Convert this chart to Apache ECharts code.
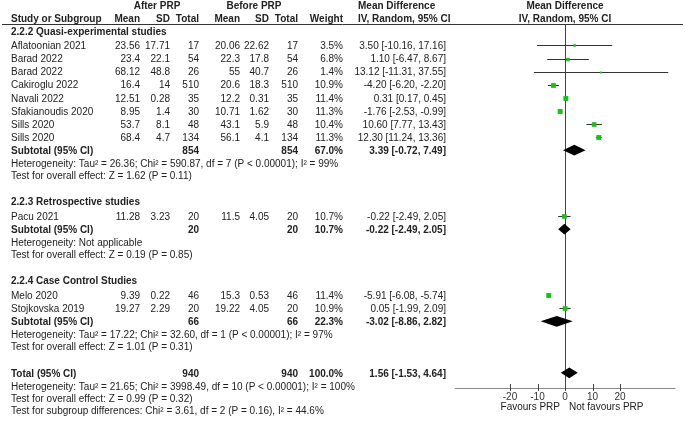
<!DOCTYPE html>
<html>
<head>
<meta charset="utf-8">
<script src="https://cdn.jsdelivr.net/npm/echarts@6/dist/echarts.min.js"></script>
<style>html,body{margin:0;padding:0;background:#fff;}#c{width:685px;height:422px;}</style>
</head>
<body>
<div id="c"></div>
<script>
// ---------------- DATA ----------------
const groupNames = ['2.2.2 Quasi-experimental studies', '2.2.3 Retrospective studies', '2.2.4 Case Control Studies'];
const studyNames = ['Aflatoonian 2021', 'Barad 2022', 'Barad 2022', 'Cakiroglu 2022', 'Navali 2022', 'Sfakianoudis 2020', 'Sills 2020', 'Sills 2020', 'Pacu 2021', 'Melo 2020', 'Stojkovska 2019'];
const studyGroup = [0, 0, 0, 0, 0, 0, 0, 0, 1, 2, 2];
const afterMean = ['23.56', '23.4', '68.12', '16.4', '12.51', '8.95', '53.7', '68.4', '11.28', '9.39', '19.27'];
const afterSD = ['17.71', '22.1', '48.8', '14', '0.28', '1.4', '8.1', '4.7', '3.23', '0.22', '2.29'];
const afterN = [17, 54, 26, 510, 35, 30, 48, 134, 20, 46, 20];
const beforeMean = ['20.06', '22.3', '55', '20.6', '12.2', '10.71', '43.1', '56.1', '11.5', '15.3', '19.22'];
const beforeSD = ['22.62', '17.8', '40.7', '18.3', '0.31', '1.62', '5.9', '4.1', '4.05', '0.53', '4.05'];
const beforeN = [17, 54, 26, 510, 35, 30, 48, 134, 20, 46, 20];
const weight = [3.5, 6.8, 1.4, 10.9, 11.4, 11.3, 10.4, 11.3, 10.7, 11.4, 10.9];
const md = [3.50, 1.10, 13.12, -4.20, 0.31, -1.76, 10.60, 12.30, -0.22, -5.91, 0.05];
const ciLow = [-10.16, -6.47, -11.31, -6.20, 0.17, -2.53, 7.77, 11.24, -2.49, -6.08, -1.99];
const ciHigh = [17.16, 8.67, 37.55, -2.20, 0.45, -0.99, 13.43, 13.36, 2.05, -5.74, 2.09];

const subN = [854, 20, 66];
const subWeight = [67.0, 10.7, 22.3];
const subMd = [3.39, -0.22, -3.02];
const subLow = [-0.72, -2.49, -8.86];
const subHigh = [7.49, 2.05, 2.82];
const subHet = [
  'Heterogeneity: Tau\u00B2 = 26.36; Chi\u00B2 = 590.87, df = 7 (P < 0.00001); I\u00B2 = 99%',
  'Heterogeneity: Not applicable',
  'Heterogeneity: Tau\u00B2 = 17.22; Chi\u00B2 = 32.60, df = 1 (P < 0.00001); I\u00B2 = 97%'
];
const subTest = [
  'Test for overall effect: Z = 1.62 (P = 0.11)',
  'Test for overall effect: Z = 0.19 (P = 0.85)',
  'Test for overall effect: Z = 1.01 (P = 0.31)'
];
const totalN = 940;
const totalWeight = 100.0;
const totalMd = 1.56, totalLow = -1.53, totalHigh = 4.64;
const totalHet = 'Heterogeneity: Tau\u00B2 = 21.65; Chi\u00B2 = 3998.49, df = 10 (P < 0.00001); I\u00B2 = 100%';
const totalTest = 'Test for overall effect: Z = 0.99 (P = 0.32)';
const subgroupTest = 'Test for subgroup differences: Chi\u00B2 = 3.61, df = 2 (P = 0.16), I\u00B2 = 44.6%';
const tickValues = [-20, -10, 0, 10, 20];
const leftLabel = 'Favours PRP';
const rightLabel = 'Not favours PRP';

// ---------------- LAYOUT ----------------
const FONT = '"Liberation Sans", Arial, Helvetica, sans-serif';
const TXT = '#222';
const X_MIN = -40, X_MAX = 40;
const GRID_TOP = 24, GRID_BOTTOM = 34, ROW_PX = 13.1;
const FIRST_ROW_PX = 31;
const Y_MIN = -(FIRST_ROW_PX - GRID_TOP) / ROW_PX;
const Y_MAX = Y_MIN + (422 - GRID_TOP - GRID_BOTTOM) / ROW_PX;
const TEXT_SHIFT = 1;

const COL = { name: 11, aMean: 140, aSD: 170, aN: 199, bMean: 240, bSD: 269, bN: 298, w: 343, ci: 446, ciHead: 358 };

const cells = [];
function cell(x, row, text, opt) { cells.push(Object.assign({ x: x, row: row, text: String(text), align: 'left', bold: false }, opt || {})); }
const fmt = v => v.toFixed(2);
const ciText = (m, l, h) => fmt(m) + ' [' + fmt(l) + ', ' + fmt(h) + ']';

// header
cell(157, -2, 'After PRP', { align: 'center', bold: true });
cell(254, -2, 'Before PRP', { align: 'center', bold: true });
cell(COL.ciHead, -2, 'Mean Difference', { bold: true });
cell(0, -2, 'Mean Difference', { dataX: 0, align: 'center', bold: true });
cell(COL.name, -1, 'Study or Subgroup', { bold: true });
cell(COL.aMean, -1, 'Mean', { align: 'right', bold: true });
cell(COL.aSD, -1, 'SD', { align: 'right', bold: true });
cell(COL.aN, -1, 'Total', { align: 'right', bold: true });
cell(COL.bMean, -1, 'Mean', { align: 'right', bold: true });
cell(COL.bSD, -1, 'SD', { align: 'right', bold: true });
cell(COL.bN, -1, 'Total', { align: 'right', bold: true });
cell(COL.w, -1, 'Weight', { align: 'right', bold: true });
cell(COL.ciHead, -1, 'IV, Random, 95% CI', { bold: true });
cell(0, -1, 'IV, Random, 95% CI', { dataX: 0, align: 'center', bold: true });

const studyRow = [];
const subRow = [];
let r = 0;
groupNames.forEach((g, gi) => {
  cell(COL.name, r, g, { bold: true });
  r += 1.1;
  studyNames.forEach((s, i) => {
    if (studyGroup[i] !== gi) return;
    studyRow[i] = r;
    cell(COL.name, r, s);
    cell(COL.aMean, r, afterMean[i], { align: 'right' });
    cell(COL.aSD, r, afterSD[i], { align: 'right' });
    cell(COL.aN, r, afterN[i], { align: 'right' });
    cell(COL.bMean, r, beforeMean[i], { align: 'right' });
    cell(COL.bSD, r, beforeSD[i], { align: 'right' });
    cell(COL.bN, r, beforeN[i], { align: 'right' });
    cell(COL.w, r, weight[i].toFixed(1) + '%', { align: 'right' });
    cell(COL.ci, r, ciText(md[i], ciLow[i], ciHigh[i]), { align: 'right' });
    r += 1;
  });
  subRow[gi] = r;
  cell(COL.name, r, 'Subtotal (95% CI)', { bold: true });
  cell(COL.aN, r, subN[gi], { align: 'right', bold: true });
  cell(COL.bN, r, subN[gi], { align: 'right', bold: true });
  cell(COL.w, r, subWeight[gi].toFixed(1) + '%', { align: 'right', bold: true });
  cell(COL.ci, r, ciText(subMd[gi], subLow[gi], subHigh[gi]), { align: 'right', bold: true });
  r += 1;
  cell(COL.name, r, subHet[gi]);
  r += 0.93;
  cell(COL.name, r, subTest[gi]);
  r += 2.0;
});
const totalRow = r;
cell(COL.name, r, 'Total (95% CI)', { bold: true });
cell(COL.aN, r, totalN, { align: 'right', bold: true });
cell(COL.bN, r, totalN, { align: 'right', bold: true });
cell(COL.w, r, totalWeight.toFixed(1) + '%', { align: 'right', bold: true });
cell(COL.ci, r, ciText(totalMd, totalLow, totalHigh), { align: 'right', bold: true });
r += 1;
cell(COL.name, r, totalHet);
r += 0.93;
cell(COL.name, r, totalTest);
r += 0.93;
cell(COL.name, r, subgroupTest);
cell(0, 0, leftLabel, { dataX: 0, dx: -5, belowAxis: 19, align: 'right' });
cell(0, 0, rightLabel, { dataX: 0, dx: 4, belowAxis: 19, align: 'left' });

const studyData = studyNames.map((s, i) => [md[i], ciLow[i], ciHigh[i], studyRow[i], weight[i]]);
const diamondData = subMd.map((m, gi) => [m, subLow[gi], subHigh[gi], subRow[gi]]);
diamondData.push([totalMd, totalLow, totalHigh, totalRow]);
const textData = cells.map((c, i) => [0, c.row, i]);
const tickData = tickValues.map(v => [v, Y_MAX]);

// ---------------- CHART ----------------
const chart = echarts.init(document.getElementById('c'), null, { renderer: 'canvas' });
chart.setOption({
  animation: false,
  backgroundColor: '#fff',
  grid: { left: 455, right: 10, top: GRID_TOP, bottom: GRID_BOTTOM, containLabel: false },
  xAxis: {
    type: 'value', min: X_MIN, max: X_MAX, position: 'bottom', splitLine: { show: false },
    axisLine: { show: true, onZero: false, lineStyle: { color: '#888', width: 1 } },
    axisTick: { show: false },
    axisLabel: { show: true, customValues: tickValues, fontSize: 10, fontFamily: FONT, color: '#333', margin: 4 }
  },
  yAxis: { type: 'value', inverse: true, min: Y_MIN, max: Y_MAX, show: false },
  graphic: [{ type: 'line', shape: { x1: 2, y1: GRID_TOP + 0.5, x2: 683, y2: GRID_TOP + 0.5 }, style: { stroke: '#333', lineWidth: 1 }, z: 10 }],
  series: [
    {
      type: 'custom', name: 'studies', data: studyData, clip: false, z: 5,
      encode: { x: [0, 1, 2], y: 3 },
      renderItem: function (params, api) {
        const m = api.value(0), lo = api.value(1), hi = api.value(2), row = api.value(3), w = api.value(4);
        const pL = api.coord([lo, row]), pR = api.coord([hi, row]), pM = api.coord([m, row]);
        const s = 1.5 + 0.3 * w;
        const yy = Math.round(pM[1]) + 0.5;
        return { type: 'group', children: [
          { type: 'line', shape: { x1: pL[0], y1: yy, x2: pR[0], y2: yy }, style: { stroke: '#333', lineWidth: 1 } },
          { type: 'rect', shape: { x: pM[0] - s / 2, y: yy - s / 2, width: s, height: s }, style: { fill: '#14c414' } }
        ] };
      },
      markLine: { silent: true, symbol: 'none', label: { show: false }, lineStyle: { color: '#444', width: 1, type: 'solid' }, data: [{ xAxis: 0 }] }
    },
    {
      type: 'custom', name: 'pooled', data: diamondData, clip: false, z: 6,
      encode: { x: [0, 1, 2], y: 3 },
      renderItem: function (params, api) {
        const m = api.value(0), lo = api.value(1), hi = api.value(2), row = api.value(3);
        const pL = api.coord([lo, row]), pR = api.coord([hi, row]), pM = api.coord([m, row]);
        const h = 5.4;
        return { type: 'polygon', shape: { points: [[pL[0], pM[1]], [pM[0], pM[1] - h], [pR[0], pM[1]], [pM[0], pM[1] + h]] }, style: { fill: '#000' } };
      }
    },
    {
      type: 'custom', name: 'ticks', data: tickData, clip: false, z: 6, silent: true,
      encode: { x: 0, y: 1 },
      renderItem: function (params, api) {
        const p = api.coord([api.value(0), api.value(1)]);
        const x = Math.round(p[0]) + 0.5;
        return { type: 'line', shape: { x1: x, y1: p[1] - 4, x2: x, y2: p[1] + 3 }, style: { stroke: '#444', lineWidth: 1 } };
      }
    },
    {
      type: 'custom', name: 'table', data: textData, clip: false, z: 7, silent: true,
      encode: { x: 0, y: 1 },
      renderItem: function (params, api) {
        const c = cells[api.value(2)];
        const yPx = c.belowAxis != null ? api.coord([0, Y_MAX])[1] + c.belowAxis : api.coord([0, c.row])[1] + TEXT_SHIFT;
        const xPx = c.dataX != null ? api.coord([c.dataX, 0])[0] + (c.dx || 0) : c.x;
        return { type: 'text', x: xPx, y: yPx, style: {
          text: c.text, align: c.align, verticalAlign: 'middle',
          fontSize: 10, fontFamily: FONT, fontWeight: c.bold ? 'bold' : 'normal', fill: TXT
        } };
      }
    }
  ]
});
</script>
</body>
</html>
